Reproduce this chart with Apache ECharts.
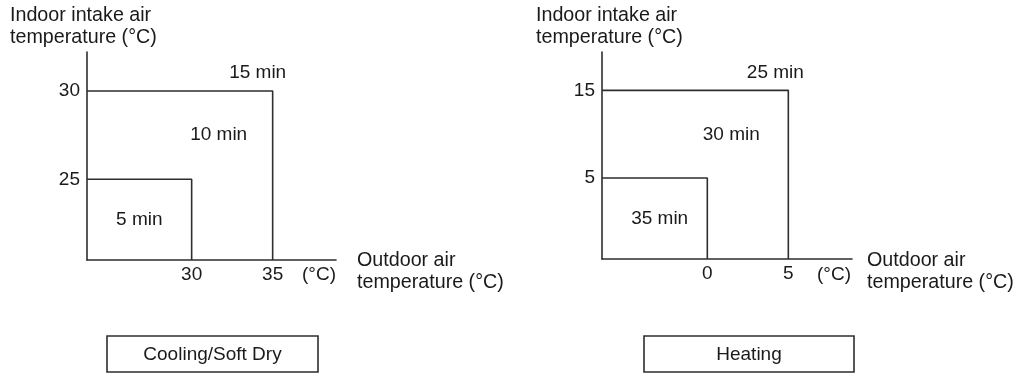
<!DOCTYPE html>
<html>
<head>
<meta charset="utf-8">
<script src="https://cdn.jsdelivr.net/npm/echarts@6/dist/echarts.min.js"></script>
<style>
  html, body { margin: 0; padding: 0; background: #fff; }
  #chart { width: 1016px; height: 376px; }
</style>
</head>
<body>
<div id="chart"></div>
<script>
// Thresholds (°C) that split each mode into its time zones
const coolingOutdoor = [30, 35];
const coolingIndoor = [25, 30];
const coolingTimes = ['5 min', '10 min', '15 min'];

const heatingOutdoor = [0, 5];
const heatingIndoor = [5, 15];
const heatingTimes = ['35 min', '30 min', '25 min'];

const modeNames = ['Cooling/Soft Dry', 'Heating'];

const FONT = 'Liberation Sans, Arial, Helvetica, sans-serif';
const INK = '#1a1a1a';
const LINE = '#2e2e2e';
const FS = 19;
const FS_TITLE = 19.7;

// Axis extents for each panel
const ranges = [
  { x: [23.54, 38.91], y: [20.43, 32.21] },
  { x: [-6.5, 8.93], y: [-4.25, 19.38] }
];

function boundary(outdoor, indoor, k, r) {
  // step line: from the indoor axis across at indoor[k], then down to the outdoor axis at outdoor[k]
  return [[r.x[0], indoor[k]], [outdoor[k], indoor[k]], [outdoor[k], r.y[0]]];
}

function panelSeries(idx, outdoor, indoor, times, offsets) {
  const r = ranges[idx];
  const lineStyle = { color: LINE, width: 1.6 };
  const base = { type: 'line', xAxisIndex: idx, yAxisIndex: idx, symbol: 'none', lineStyle, silent: true, animation: false };
  const anchors = [
    [(r.x[0] + outdoor[0]) / 2, (r.y[0] + indoor[0]) / 2],
    [outdoor[0], (indoor[0] + indoor[1]) / 2],
    [outdoor[1], indoor[1]]
  ];
  return [
    Object.assign({ data: boundary(outdoor, indoor, 0, r) }, base),
    Object.assign({ data: boundary(outdoor, indoor, 1, r) }, base),
    {
      type: 'scatter', xAxisIndex: idx, yAxisIndex: idx, symbolSize: 0, silent: true, animation: false,
      itemStyle: { opacity: 1 },
      data: anchors.map((p, i) => ({
        value: p,
        label: {
          show: true, position: 'inside', formatter: times[i], offset: offsets[i],
          fontSize: FS, fontFamily: FONT, color: INK, opacity: 1
        }
      }))
    }
  ];
}

function xAxisFor(idx, ticks) {
  return {
    type: 'value', gridIndex: idx, min: ranges[idx].x[0], max: ranges[idx].x[1],
    axisLine: { show: true, onZero: false, lineStyle: { color: LINE, width: 1.6 } },
    axisTick: { show: false }, splitLine: { show: false },
    axisLabel: { customValues: ticks, margin: 5, fontSize: FS, fontFamily: FONT, color: INK }
  };
}
function yAxisFor(idx, ticks) {
  return {
    type: 'value', gridIndex: idx, min: ranges[idx].y[0], max: ranges[idx].y[1],
    axisLine: { show: true, onZero: false, lineStyle: { color: LINE, width: 1.6 } },
    axisTick: { show: false }, splitLine: { show: false },
    axisLabel: { customValues: ticks, margin: 7, fontSize: FS, fontFamily: FONT, color: INK }
  };
}

function textBlock(text, x, y, align, size) {
  return {
    type: 'text', x, y, silent: true,
    style: { text, fontSize: size || FS, fontFamily: FONT, fill: INK, lineHeight: 22, align: align || 'left', verticalAlign: 'top' }
  };
}
function modeBox(name, x, w) {
  return [
    { type: 'rect', shape: { x, y: 336, width: w, height: 36 }, style: { fill: '#fff', stroke: LINE, lineWidth: 1.6 }, silent: true },
    { type: 'text', x: x + w / 2, y: 354.5, silent: true,
      style: { text: name, fontSize: FS, fontFamily: FONT, fill: INK, align: 'center', verticalAlign: 'middle' } }
  ];
}

const chart = echarts.init(document.getElementById('chart'), null, { renderer: 'canvas' });
chart.setOption({
  animation: false,
  backgroundColor: '#fff',
  grid: [
    { left: 87, top: 52, width: 249, height: 208 },
    { left: 602, top: 52, width: 250, height: 207 }
  ],
  xAxis: [xAxisFor(0, coolingOutdoor), xAxisFor(1, heatingOutdoor)],
  yAxis: [yAxisFor(0, coolingIndoor), yAxisFor(1, heatingIndoor)],
  series: [
    ...panelSeries(0, coolingOutdoor, coolingIndoor, coolingTimes, [[0, 0], [27, 0], [-15, -18.5]]),
    ...panelSeries(1, heatingOutdoor, heatingIndoor, heatingTimes, [[5, 0], [24, 1], [-13, -18]])
  ],
  graphic: [
    textBlock('Indoor intake air\ntemperature (°C)', 10, 5, 'left', FS_TITLE),
    textBlock('Indoor intake air\ntemperature (°C)', 536, 5, 'left', FS_TITLE),
    textBlock('(°C)', 319, 264, 'center'),
    textBlock('(°C)', 834, 264, 'center'),
    textBlock('Outdoor air\ntemperature (°C)', 357, 250, 'left', FS_TITLE),
    textBlock('Outdoor air\ntemperature (°C)', 867, 250, 'left', FS_TITLE),
    ...modeBox(modeNames[0], 107, 211),
    ...modeBox(modeNames[1], 644, 210)
  ]
});
</script>
</body>
</html>
